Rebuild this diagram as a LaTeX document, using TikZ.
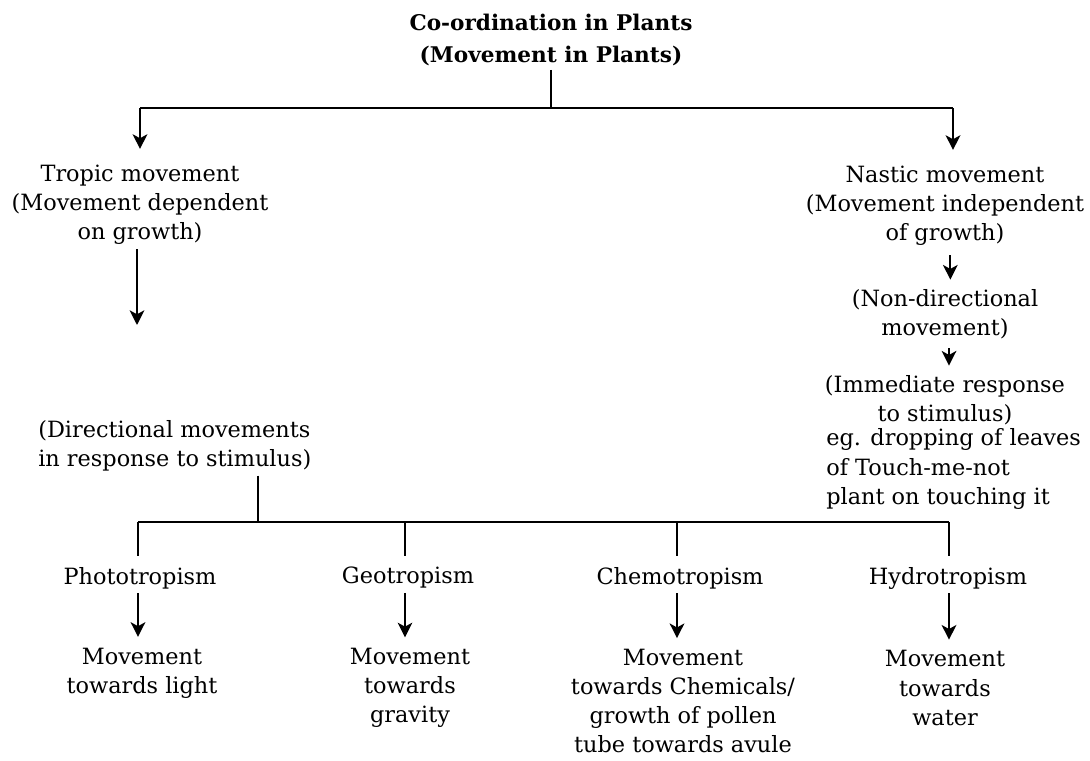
\documentclass[tikz,border=0pt]{standalone}
\usepackage{fontspec}
\setmainfont{DejaVu Serif}
\usetikzlibrary{arrows.meta}
\begin{document}
\begin{tikzpicture}[x=0.75pt,y=-0.75pt,
  txt/.style={inner sep=3pt,align=center,font=\fontsize{16.8}{21.8}\selectfont},
  ttl/.style={inner sep=3pt,align=center,font=\bfseries\fontsize{16.2}{23.5}\selectfont},
  bar/.style={line width=2pt},
  arr/.style={line width=1.6pt,-{Stealth[length=11pt,width=11pt,inset=3pt]}}]
\useasboundingbox[fill=white] (0,0) rectangle (1090,761);

% title
\node[ttl] (title) at (551,40) {Co-ordination in Plants\\(Movement in Plants)};
\coordinate (tj) at (551,108);
\coordinate (tl) at (140,108);
\coordinate (tr) at (953,108);

% left branch
\node[txt] (tropic) at (140,205) {Tropic movement\\(Movement dependent\\on growth)};
\coordinate (tend) at (137,325);
\node[txt,align=left,anchor=west] (direct) at (34,446) {(Directional movements\\in response to stimulus)};

% right branch
\node[txt] (nastic) at (945,206) {Nastic movement\\(Movement independent\\of growth)};
\node[txt] (nondir) at (945,314) {(Non-directional\\movement)};
\node[txt] (immed) at (945,400) {(Immediate response\\to stimulus)};
\node[txt,align=left,anchor=west] (eg) at (822,469) {eg. dropping of leaves\\of Touch-me-not\\plant on touching it};

% bottom bar
\coordinate (bj) at (258,522);
\coordinate (b1) at (138,522);
\coordinate (b2) at (405,522);
\coordinate (b3) at (677,522);
\coordinate (b4) at (949,522);

\node[txt] (photo) at (140,578) {Phototropism};
\node[txt] (geo) at (408,578) {Geotropism};
\node[txt] (chemo) at (680,578) {Chemotropism};
\node[txt] (hydro) at (948,578) {Hydrotropism};

\node[txt] (r1) at (142,673) {Movement\\towards light};
\node[txt] (r2) at (410,688) {Movement\\towards\\gravity};
\node[txt] (r3) at (683,701) {Movement\\towards Chemicals/\\growth of pollen\\tube towards avule};
\node[txt] (r4) at (945,688) {Movement\\towards\\water};

% connectors top
\draw[bar] (title.south -| tj) -- (tj);
\draw[bar] (tl) -- (tr);
\draw[arr,shorten >=9pt] (tl) -- (tl |- tropic.north);
\draw[arr,shorten >=9pt] (tr) -- (tr |- nastic.north);
\draw[arr] (tropic.south -| tend) -- (tend);
\draw[arr,shorten <=4pt,shorten >=4pt] ([xshift=4pt]nastic.south) -- ([xshift=4pt]nondir.north);
\draw[arr,shorten <=4pt,shorten >=4pt] ([xshift=3pt]nondir.south) -- ([xshift=3pt]immed.north);

% connectors bottom
\draw[bar] (direct.south -| bj) -- (bj);
\draw[bar] (b1) -- (b4);
\draw[bar,shorten >=5pt] (b1) -- (b1 |- photo.north);
\draw[bar,shorten >=5pt] (b2) -- (b2 |- geo.north);
\draw[bar,shorten >=5pt] (b3) -- (b3 |- chemo.north);
\draw[bar,shorten >=5pt] (b4) -- (b4 |- hydro.north);
\draw[arr,shorten >=5pt] (photo.south -| b1) -- (b1 |- r1.north);
\draw[arr,shorten >=5pt] (geo.south -| b2) -- (b2 |- r2.north);
\draw[arr,shorten >=5pt] (chemo.south -| b3) -- (b3 |- r3.north);
\draw[arr,shorten >=5pt] (hydro.south -| b4) -- (b4 |- r4.north);
\end{tikzpicture}
\end{document}
